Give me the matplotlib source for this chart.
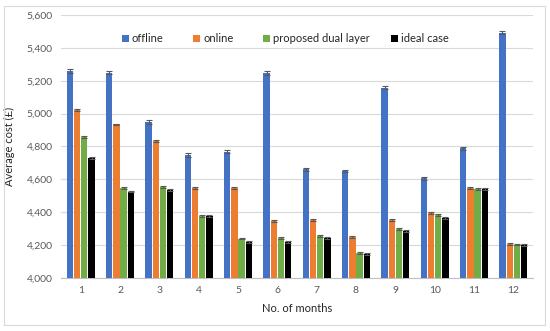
import matplotlib
matplotlib.use("Agg")
import matplotlib.pyplot as plt
import numpy as np
from matplotlib.patches import Rectangle

months = ["1", "2", "3", "4", "5", "6", "7", "8", "9", "10", "11", "12"]
offline = [5260, 5250, 4948, 4748, 4769, 5250, 4660, 4650, 5159, 4606, 4788, 5493]
online = [5022, 4935, 4833, 4549, 4547, 4346, 4352, 4246, 4352, 4392, 4547, 4207]
dual = [4857, 4548, 4555, 4376, 4239, 4240, 4254, 4151, 4295, 4381, 4540, 4202]
ideal = [4728, 4525, 4534, 4376, 4218, 4218, 4244, 4142, 4287, 4366, 4542, 4201]
err_offline = [12, 10, 12, 12, 10, 12, 8, 6, 8, 8, 8, 8]
err_other = [5, 5, 6, 6, 6, 6, 6, 6, 6, 6, 6, 5]

series = [("offline", offline, "#4472C4"), ("online", online, "#ED7D31"),
          ("proposed dual layer", dual, "#70AD47"), ("ideal case", ideal, "#000000")]
legend_x = [122, 193, 263, 391]

plt.rcParams['font.family'] = ['Lato', 'DejaVu Sans']
fig = plt.figure(figsize=(5.5, 3.31), dpi=100)
ax = fig.add_axes([0.111, 0.161, 0.858, 0.793])

x = np.arange(len(months))
step = 0.183
width = 0.16
handles = []
for i, (name, vals, col) in enumerate(series):
    err = err_offline if i == 0 else err_other
    b = ax.bar(x + (i - 1.5) * step, np.array(vals) - 4000, bottom=4000, width=width, color=col, label=name,
               yerr=err, error_kw=dict(ecolor="#595959", elinewidth=0.8, capsize=2, capthick=0.8), zorder=3)
    handles.append(b)

ax.set_ylim(4000, 5600)
ax.set_xlim(-0.5, 11.5)
ax.set_yticks(np.arange(4000, 5601, 200))
ax.set_yticklabels([f"{v:,}" for v in range(4000, 5601, 200)])
ax.set_xticks(x)
ax.set_xticklabels(months)
ax.tick_params(axis='both', length=0, labelsize=7.5, colors="#595959", pad=6)
ax.grid(axis='y', color="#D9D9D9", linewidth=0.8, zorder=0)
for s in ["top", "right", "left"]:
    ax.spines[s].set_visible(False)
ax.spines["bottom"].set_color("#BFBFBF")
ax.set_ylabel("Average cost (£)", fontsize=8, color="#262626", labelpad=8)
ax.set_xlabel("No. of months", fontsize=8, color="#262626", labelpad=6)

for (name, vals, col), h, lx in zip(series, handles, legend_x):
    leg = fig.legend([h], [name], loc="center left", bbox_to_anchor=(lx / 550, 1 - 38.5 / 331),
                     frameon=False, fontsize=8, handlelength=0.6, handleheight=0.6,
                     handletextpad=0.3, borderpad=0, borderaxespad=0)
    for t in leg.get_texts():
        t.set_color("#262626")

fig.patches.append(Rectangle((4/550, 6/331), 541/550, 319/331, transform=fig.transFigure,
                             fill=False, edgecolor="#D9D9D9", linewidth=0.8))
fig.savefig("out.png", dpi=100)
